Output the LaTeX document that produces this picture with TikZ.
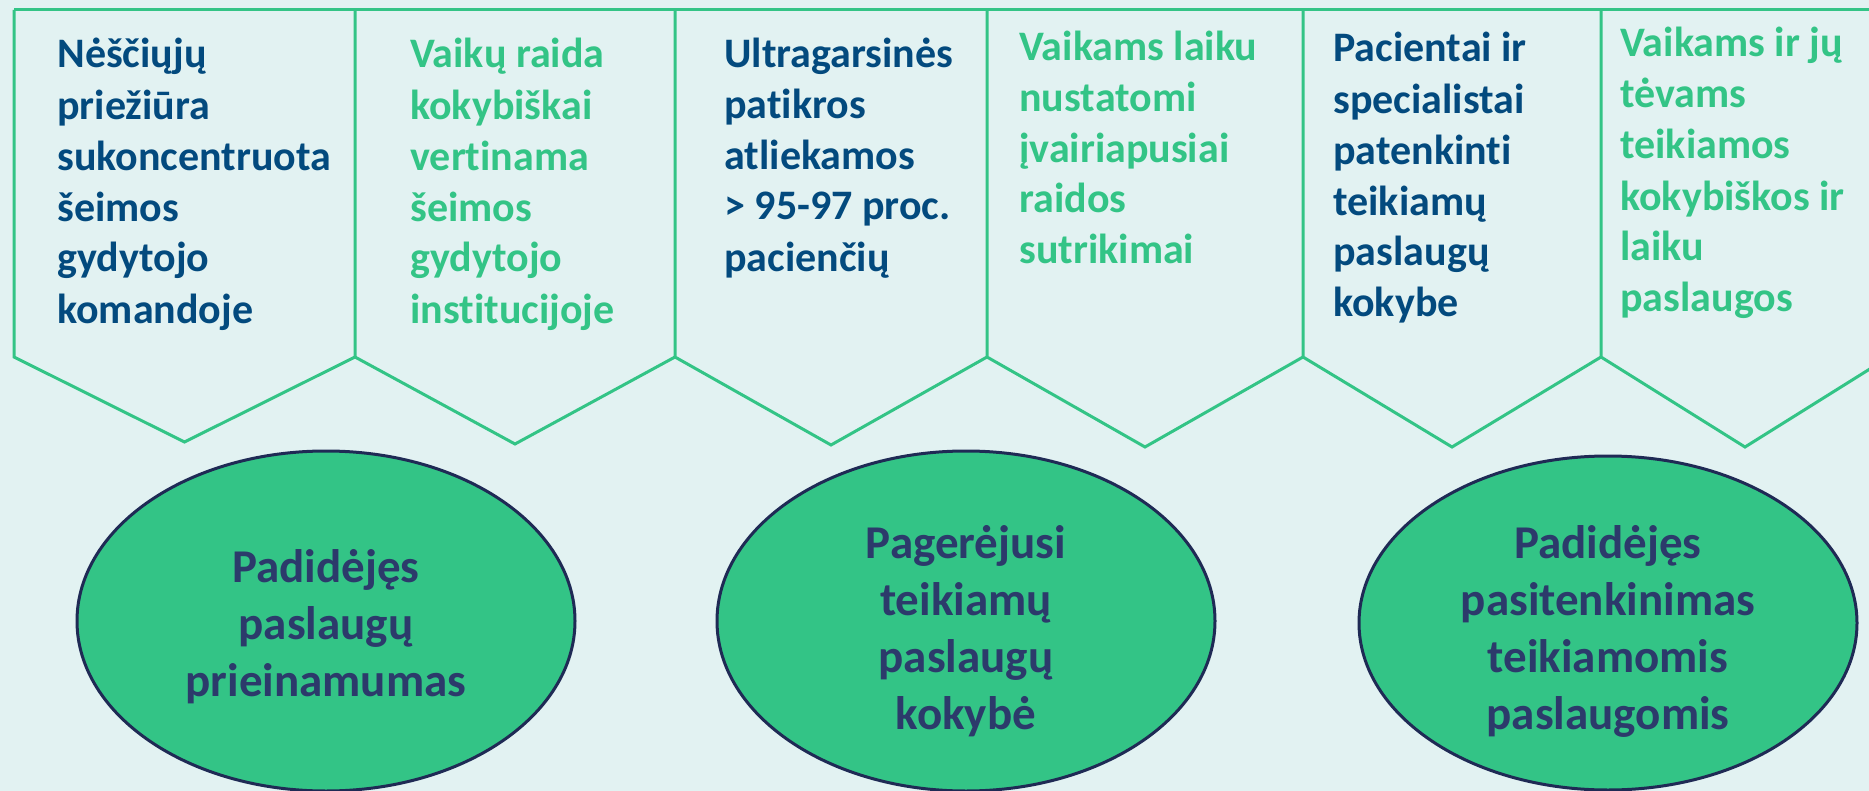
\documentclass[tikz,border=0pt]{standalone}
\usepackage{fontspec}
\setmainfont{Carlito}[Ligatures=NoCommon]
\usetikzlibrary{shapes.geometric}
\definecolor{bgcol}{HTML}{E2F2F2}
\definecolor{mygreen}{HTML}{33C486}
\definecolor{myblue}{HTML}{034A7E}
\definecolor{navyline}{HTML}{1F2A55}
\definecolor{navytext}{HTML}{2C3A6B}
\tikzset{
  panel line/.style={mygreen,line width=1.5pt,line join=miter},
  panel text/.style={anchor=base west,align=left,inner sep=0pt,
                     font=\fontsize{21}{25.5}\selectfont\bfseries,text=#1},
  panel text/.default=myblue,
  result/.style={ellipse,draw=navyline,line width=1.5pt,fill=mygreen,inner sep=0pt,
                 minimum width=249pt,minimum height=170pt},
  result text/.style={align=center,inner sep=0pt,
                      font=\fontsize{23.5}{28.5}\selectfont\bfseries,text=navytext}}

\begin{document}
\begin{tikzpicture}[x=0.5pt,y=-0.5pt]
  \def\W{1869}  % picture width
  \def\H{791}   % picture height
  \def\top{10}  % top line
  \def\side{357} % bottom of panel sides
  \useasboundingbox (0,0) rectangle (\W,\H);
  \fill[bgcol] (0,0) rectangle (\W,\H); % background
  \clip (0,0) rectangle (\W,\H);

  % PANELS
  \draw[panel line] (14,\top) -- (\W,\top); % top line
  \foreach \xl/\xr/\ty in {14/355/442,355/675/444,675/987/445,987/1303/447,1303/1601/447,1601/1889/447}
    \draw[panel line] (\xl,\top) -- (\xl,\side) -- ({(\xl+\xr)/2},\ty) -- (\xr,\side);

  % texts sit on the baseline of their last line
  \node[panel text] (nestumas) at (57,323) {Nėščiųjų\\priežiūra\\sukoncentruota\\šeimos\\gydytojo\\komandoje};
  \node[panel text=mygreen] (raida) at (410,323) {Vaikų raida\\kokybiškai\\vertinama\\šeimos\\gydytojo\\institucijoje};
  \node[panel text] (patikros) at (724,271) {Ultragarsinės\\patikros\\atliekamos\\> 95-97 proc.\\pacienčių};
  \node[panel text=mygreen] (sutrikimai) at (1019,264) {Vaikams laiku\\nustatomi\\įvairiapusiai\\raidos\\sutrikimai};
  \node[panel text] (pacientai) at (1333,317) {Pacientai ir\\specialistai\\patenkinti\\teikiamų\\paslaugų\\kokybe};
  \node[panel text=mygreen] (tevai) at (1620,312) {Vaikams ir jų\\tėvams\\teikiamos\\kokybiškos ir\\laiku\\paslaugos};

  % RESULTS
  \node[result] (prieinamumas) at (326,621) {};
  \node[result] (kokybe) at (966,621) {};
  \node[result,minimum height=167pt] (pasitenkinimas) at (1608,623) {};
  \node[result text,yshift=-3pt] (t1) at (prieinamumas) {Padidėjęs\\paslaugų\\prieinamumas};
  \node[result text,yshift=-5pt] (t2) at (kokybe) {Pagerėjusi\\teikiamų\\paslaugų\\kokybė};
  \node[result text,yshift=-4pt] (t3) at (pasitenkinimas) {Padidėjęs\\pasitenkinimas\\teikiamomis\\paslaugomis};
\end{tikzpicture}
\end{document}
